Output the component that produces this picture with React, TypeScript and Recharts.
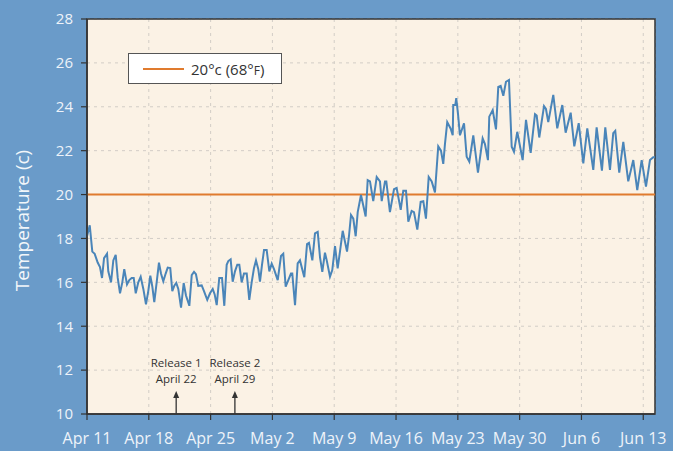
import { LineChart, Line, XAxis, YAxis, CartesianGrid, ReferenceLine, ReferenceArea, Legend } from 'recharts';

// days since Apr 11 (00:00) and the logged temperature in °C
const DAYS = [
  0.0, 0.31, 0.6, 0.87, 1.21, 1.47, 1.7, 1.93, 2.27, 2.41, 2.72, 2.98, 3.25, 3.48, 3.74, 4.0,
  4.22, 4.53, 4.79, 5.06, 5.29, 5.52, 5.81, 6.08, 6.38, 6.68, 6.94, 7.17, 7.4, 7.62, 7.89, 8.15,
  8.38, 8.64, 8.91, 9.14, 9.43, 9.66, 9.89, 10.11, 10.34, 10.65, 10.95, 11.21, 11.59, 11.86, 12.12, 12.34,
  12.6, 12.99, 13.25, 13.62, 13.93, 14.24, 14.46, 14.69, 14.98, 15.29, 15.55, 15.82, 16.0, 16.27, 16.5, 16.76,
  17.02, 17.25, 17.52, 17.78, 18.09, 18.38, 18.65, 18.91, 19.14, 19.4, 19.59, 19.82, 20.05, 20.35, 20.65, 20.92,
  21.18, 21.6, 21.97, 22.23, 22.5, 22.8, 23.1, 23.25, 23.56, 23.86, 24.12, 24.61, 24.92, 25.14, 25.52, 25.82,
  26.13, 26.39, 26.65, 26.95, 27.15, 27.52, 27.78, 28.09, 28.39, 28.65, 28.96, 29.22, 29.45, 29.67, 29.9, 30.16,
  30.43, 30.66, 31.03, 31.29, 31.56, 31.79, 32.05, 32.42, 32.81, 33.18, 33.38, 33.75, 33.9, 34.31, 34.77, 35.07,
  35.53, 35.82, 36.13, 36.39, 36.77, 37.03, 37.41, 37.79, 38.09, 38.39, 38.7, 39.04, 39.41, 39.78, 40.09, 40.35,
  40.54, 40.8, 41.19, 41.42, 41.48, 41.71, 41.82, 42.02, 42.24, 42.7, 43.0, 43.3, 43.75, 44.28, 44.81, 45.07,
  45.41, 45.56, 45.95, 46.32, 46.58, 46.85, 47.15, 47.45, 47.79, 48.1, 48.36, 48.73, 49.34, 49.72, 50.25, 50.74,
  50.93, 51.22, 51.76, 51.98, 52.24, 52.81, 53.26, 53.83, 54.21, 54.78, 55.19, 55.69, 56.21, 56.66, 57.34, 57.72,
  58.32, 58.7, 59.23, 59.6, 59.83, 60.28, 60.74, 61.3, 61.87, 62.32, 62.82, 63.31, 63.76, 64.13, 64.33,
];

const TEMPS = [
  18.1, 18.6, 17.4, 17.3, 16.9, 16.7, 16.2, 17.1, 17.3, 16.5, 16.0, 17.0, 17.25, 16.2, 15.5, 16.0,
  16.6, 15.9, 16.1, 16.2, 16.2, 15.5, 16.0, 16.25, 15.7, 15.0, 15.6, 16.3, 15.8, 15.1, 16.0, 16.9,
  16.4, 16.05, 16.4, 16.67, 16.65, 15.6, 15.85, 15.97, 15.7, 14.85, 15.97, 15.4, 14.93, 16.33, 16.48, 16.37,
  15.84, 15.86, 15.6, 15.2, 15.5, 15.7, 15.45, 14.96, 16.2, 16.2, 14.93, 16.8, 16.97, 17.05, 16.03, 16.5,
  16.8, 16.8, 16.0, 16.4, 16.4, 15.2, 16.0, 16.64, 17.0, 16.6, 16.03, 16.8, 17.47, 17.47, 16.5, 16.85,
  16.6, 16.1, 17.2, 17.3, 15.8, 16.1, 16.4, 16.4, 14.96, 16.86, 17.0, 16.23, 17.74, 17.8, 17.0, 18.23,
  18.3, 17.14, 16.48, 17.35, 17.0, 16.26, 16.56, 17.65, 16.64, 17.4, 18.35, 17.85, 17.4, 18.1, 19.07, 18.9,
  18.1, 19.2, 19.98, 19.5, 19.0, 20.66, 20.6, 19.7, 20.8, 20.6, 19.7, 20.6, 20.6, 19.2, 20.24, 20.3,
  19.3, 20.17, 20.17, 18.76, 19.25, 19.2, 18.4, 19.67, 19.7, 18.9, 20.8, 20.6, 20.1, 22.2, 22.0, 21.4,
  22.3, 23.3, 23.0, 22.7, 24.08, 24.08, 24.39, 23.67, 22.7, 23.25, 21.72, 21.5, 22.7, 21.0, 22.56, 22.3,
  21.57, 23.55, 23.85, 22.97, 24.9, 24.95, 24.5, 25.14, 25.22, 22.18, 21.95, 22.86, 21.57, 23.4, 21.9, 23.66,
  23.6, 22.6, 24.03, 23.9, 23.3, 24.54, 23.02, 24.08, 22.82, 23.73, 22.2, 23.25, 21.42, 23.02, 21.12, 23.06,
  21.09, 23.06, 21.12, 22.8, 22.9, 21.0, 22.4, 20.6, 21.57, 20.2, 21.57, 20.36, 21.57, 21.7, 21.7,
];

const DATE_TICKS = [0, 7, 14, 21, 28, 35, 42, 49, 56, 63];
const DATE_LABELS = ['Apr 11', 'Apr 18', 'Apr 25', 'May 2', 'May 9', 'May 16', 'May 23', 'May 30', 'Jun 6', 'Jun 13'];
const TEMP_TICKS = [10, 12, 14, 16, 18, 20, 22, 24, 26, 28];
const THRESHOLD = 20;

const RELEASE_DAYS = [10.1, 16.75];
const RELEASE_TITLES = ['Release 1', 'Release 2'];
const RELEASE_DATES = ['April 22', 'April 29'];

const data = DAYS.map((day, i) => ({ day, temp: TEMPS[i] }));
const LAST_DAY = DAYS[DAYS.length - 1];

const FONT = '"Open Sans", sans-serif';
const BG = '#6a9bc9';
const PAPER = '#fbf2e5';
const INK = '#333';

function arrowShape(title: string, date: string) {
  return (props: any) => {
    const { x1, y1, y2 } = props;
    const top = Math.min(y1, y2);
    const bottom = Math.max(y1, y2);
    return (
      <g>
        <line x1={x1} y1={bottom} x2={x1} y2={top + 4} stroke={INK} strokeWidth={1.3} />
        <polygon points={`${x1},${top} ${x1 - 3},${top + 7} ${x1 + 3},${top + 7}`} fill={INK} />
        <text x={x1} y={top - 24} textAnchor="middle" fontSize={11.5} fontFamily={FONT} fill={INK}>{title}</text>
        <text x={x1} y={top - 8} textAnchor="middle" fontSize={11.5} fontFamily={FONT} fill={INK}>{date}</text>
      </g>
    );
  };
}

function LegendBox() {
  return (
    <div style={{ width: 154, height: 31, boxSizing: 'border-box', border: '1px solid #555', background: '#fff', display: 'flex', alignItems: 'center', fontFamily: FONT, fontSize: 15, color: INK }}>
      <svg width={62} height={10}>
        <line x1={14} y1={5} x2={55} y2={5} stroke="#e07b2e" strokeWidth={2} />
      </svg>
      <span>20°c (68°<span style={{ fontSize: 12 }}>F</span>)</span>
    </div>
  );
}

function YLabel(props: any) {
  const { viewBox } = props;
  const cx = 22;
  const cy = viewBox.y + viewBox.height / 2 + 4;
  return (
    <text x={cx} y={cy} transform={`rotate(-90 ${cx} ${cy})`} textAnchor="middle" dominantBaseline="central" fontSize={19} fontFamily={FONT} fill="#f2f6fa">
      Temperature (c)
    </text>
  );
}

export default function App() {
  return (
    <div style={{ position: 'absolute', left: 0, top: 0, width: 673, height: 451, background: BG }}>
      <LineChart width={673} height={451} data={data} margin={{ top: 19, right: 18, bottom: 0, left: 0 }} style={{ fontFamily: FONT }}>
        <CartesianGrid fill={PAPER} stroke="#d2cdc6" strokeDasharray="3 4" />
        <XAxis
          dataKey="day"
          type="number"
          domain={[0, LAST_DAY]}
          ticks={DATE_TICKS}
          tickFormatter={(v: number) => DATE_LABELS[DATE_TICKS.indexOf(v)]}
          height={37}
          tickMargin={13}
          axisLine={{ stroke: INK, strokeWidth: 1.5 }}
          tickLine={{ stroke: INK, strokeWidth: 1.2 }}
          tick={{ fill: '#eef3f9', fontSize: 16 }}
          allowDataOverflow
        />
        <YAxis
          type="number"
          domain={[10, 28]}
          ticks={TEMP_TICKS}
          width={87}
          tickMargin={8}
          axisLine={{ stroke: INK, strokeWidth: 1.5 }}
          tickLine={{ stroke: INK, strokeWidth: 1.2 }}
          tick={{ fill: '#eef3f9', fontSize: 15 }}
          label={{ content: YLabel }}
        />
        <ReferenceArea x1={0} x2={LAST_DAY} y1={10} y2={28} fill="none" stroke={INK} strokeWidth={1.5} />
        <ReferenceLine y={THRESHOLD} stroke="#e07b2e" strokeWidth={2} />
        {RELEASE_DAYS.map((d, i) => (
          <ReferenceLine
            key={RELEASE_TITLES[i]}
            segment={[{ x: d, y: 10 }, { x: d, y: 11.05 }]}
            shape={arrowShape(RELEASE_TITLES[i], RELEASE_DATES[i])}
          />
        ))}
        <Line type="linear" dataKey="temp" stroke="#4a85b9" strokeWidth={2} dot={false} isAnimationActive={false} />
        <Legend
          layout="horizontal"
          verticalAlign="middle"
          align="center"
          wrapperStyle={{ left: 128, top: 53, width: 154 }}
          content={() => <LegendBox />}
        />
      </LineChart>
    </div>
  );
}
